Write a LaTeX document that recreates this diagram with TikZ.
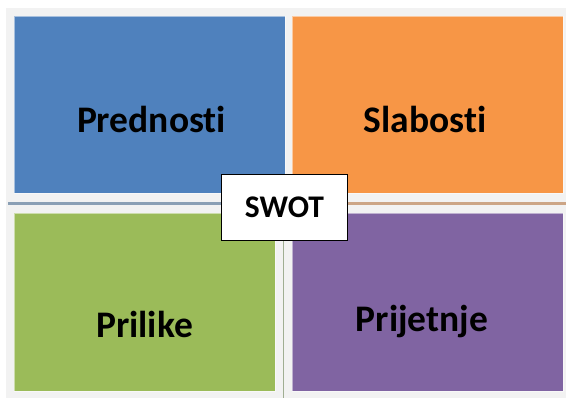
\documentclass[tikz,border=0pt]{standalone}
\usepackage{fontspec}
\setmainfont{Carlito}[Ligatures={NoCommon}]
\definecolor{bgGrey}{HTML}{F2F2F2}
\definecolor{qBlue}{HTML}{4F81BD}
\definecolor{qOrange}{HTML}{F79646}
\definecolor{qGreen}{HTML}{9BBB59}
\definecolor{qPurple}{HTML}{8064A2}
\definecolor{lineBlue}{HTML}{8A9FB5}
\definecolor{lineBrown}{HTML}{CCA586}
\definecolor{lineGreen}{HTML}{A0AE92}
\tikzset{
  quad/.style={draw=white, draw opacity=0.5, line width=0.6pt, anchor=north west, inner sep=0pt},
  qlabel/.style={anchor=base, font=\fontsize{37.5}{42}\selectfont\bfseries, text=black, inner sep=0pt},
  swotbox/.style={draw=black, line width=1.6pt, fill=white, minimum width=126pt, minimum height=66pt, inner sep=0pt, font=\fontsize{31.5}{36}\selectfont\bfseries}
}
\begin{document}
\begin{tikzpicture}[x=1pt, y=-1pt]
\useasboundingbox (0,0) rectangle (566,398);
\fill[bgGrey] (6,8) rectangle (566,398);
% quadrants
\node[quad, fill=qBlue, minimum width=271pt, minimum height=177pt] (S) at (14,16) {};
\node[quad, fill=qOrange, minimum width=271pt, minimum height=177pt] (W) at (292,16) {};
\node[quad, fill=qGreen, minimum width=261pt, minimum height=178pt] (O) at (14,213) {};
\node[quad, fill=qPurple, minimum width=271pt, minimum height=178pt] (T) at (292,213) {};
% labels
\node[qlabel] (tS) at (151.5,133) {Prednosti};
\node[qlabel] (tW) at (425,133) {Slabosti};
\node[qlabel] (tO) at (144.5,338) {Prilike};
\node[qlabel] (tT) at (422,332) {Prijetnje};
% separators
\coordinate (hl) at (8,203.5);
\coordinate (hr) at (566,203.5);
\coordinate (hm) at (285,203.5);
\coordinate (vb) at (283.5,398);
\coordinate (vt) at (283.5,241);
\draw[lineBlue, line width=2.8pt] (hl) -- (hm);
\draw[lineBrown, line width=2.8pt] (hm) -- (hr);
\draw[lineGreen, line width=1.8pt] (vt) -- (vb);
% center
\node[swotbox] (swot) at (284.5,207.5) {SWOT};
\end{tikzpicture}
\end{document}
